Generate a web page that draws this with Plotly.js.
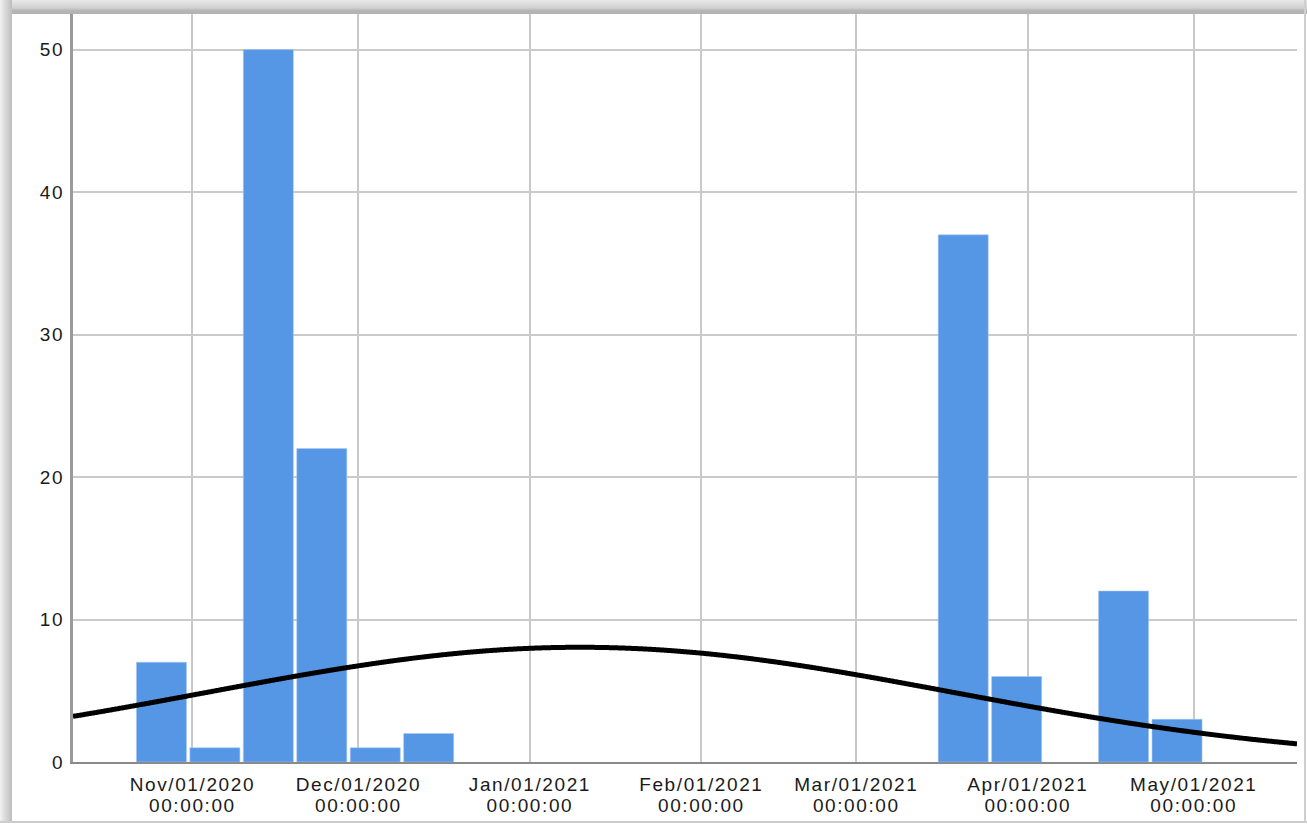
<!DOCTYPE html>
<html>
<head>
<meta charset="utf-8">
<script src="https://cdn.plot.ly/plotly-3.0.1.min.js"></script>
<style>
  html, body { margin: 0; padding: 0; background: #ffffff; }
  #wrap { position: relative; width: 1307px; height: 825px; overflow: hidden; }
  #chart { position: absolute; left: 0; top: 0; width: 1307px; height: 825px; }
  .frame { position: absolute; pointer-events: none; }
  #frameTop { left: 0; top: 0; width: 1307px; height: 14px;
    background: linear-gradient(to bottom, #e9e9e9 0%, #dedede 25%, #d2d2d2 55%, #b6b6b6 75%, #b2b2b2 100%); }
  #frameLeft { left: 0; top: 0; width: 12px; height: 822px;
    background: linear-gradient(to right, #f2f2f2 0%, #dedede 35%, #cfcfcf 65%, #bdbdbd 100%); }
  #frameBottom { left: 0; top: 821px; width: 1307px; height: 2px; background: #cdcdcd; }
  #frameRight { left: 1304px; top: 0; width: 2px; height: 823px; background: #cfcfcf; }
  .xtick text { letter-spacing: 1.6px; }
  .ytick text { letter-spacing: 1.6px; }
</style>
</head>
<body>
<div id="wrap">
  <div id="chart"></div>
  <div class="frame" id="frameTop"></div>
  <div class="frame" id="frameLeft"></div>
  <div class="frame" id="frameBottom"></div>
  <div class="frame" id="frameRight"></div>
</div>
<script>
// Histogram bins (centre date of each non-empty bin) and their frequencies
const binCenters = [
  '2020-10-26 09:38', '2020-11-05 01:31', '2020-11-14 17:24', '2020-11-24 09:17',
  '2020-12-04 01:11', '2020-12-13 17:04', '2021-03-20 07:57', '2021-03-29 23:50',
  '2021-04-18 07:36', '2021-04-27 23:30'
];
const counts = [7, 1, 50, 22, 1, 2, 37, 6, 12, 3];
const binWidthDays = 9.662;

// Fitted normal distribution
const normalMean = '2021-01-10 02:00';
const normalSdDays = 67.5;

// Axis ticks
const tickDates = ['2020-11-01', '2020-12-01', '2021-01-01', '2021-02-01', '2021-03-01', '2021-04-01', '2021-05-01'];
const tickLabels = [
  'Nov/01/2020<br>00:00:00', 'Dec/01/2020<br>00:00:00', 'Jan/01/2021<br>00:00:00',
  'Feb/01/2021<br>00:00:00', 'Mar/01/2021<br>00:00:00', 'Apr/01/2021<br>00:00:00',
  'May/01/2021<br>00:00:00'
];
const xRange = ['2020-10-10 10:00', '2021-05-19 16:00'];

const DAY = 86400000;
const toMs = s => new Date(s.replace(' ', 'T') + (s.length <= 10 ? 'T00:00:00Z' : ':00Z')).getTime();
const fmt = ms => new Date(ms).toISOString().slice(0, 19).replace('T', ' ');

// Normal curve scaled to the histogram: N * binWidth * pdf
const total = counts.reduce((a, b) => a + b, 0);
const mu = toMs(normalMean);
const sd = normalSdDays;
const scale = total * binWidthDays / (sd * Math.sqrt(2 * Math.PI));
const x0 = toMs(xRange[0]), x1 = toMs(xRange[1]);
const curveX = [], curveY = [];
const steps = 600;
for (let i = 0; i <= steps; i++) {
  const t = x0 + (x1 - x0) * i / steps;
  const z = (t - mu) / DAY / sd;
  curveX.push(fmt(t));
  curveY.push(scale * Math.exp(-0.5 * z * z));
}

const bars = {
  type: 'bar',
  x: binCenters,
  y: counts,
  width: binCenters.map(() => (binWidthDays - 0.62) * DAY),
  marker: { color: '#5596e5', line: { color: '#a8c7f1', width: 0.6 } },
  hoverinfo: 'x+y'
};

const curve = {
  type: 'scatter',
  mode: 'lines',
  x: curveX,
  y: curveY,
  line: { color: '#000000', width: 5, shape: 'spline', smoothing: 0.6 },
  hoverinfo: 'skip'
};

const tickFont = { family: 'Liberation Sans, Arial, sans-serif', size: 19, color: '#1a1a1a' };

const layout = {
  width: 1307,
  height: 825,
  margin: { l: 73, r: 10, t: 14, b: 63 },
  paper_bgcolor: '#ffffff',
  plot_bgcolor: '#ffffff',
  showlegend: false,
  bargap: 0,
  xaxis: {
    type: 'date',
    range: xRange,
    tickmode: 'array',
    tickvals: tickDates,
    ticktext: tickLabels,
    tickfont: tickFont,
    ticks: '',
    ticklabelstandoff: 4,
    showgrid: true,
    gridcolor: '#c9c9c9',
    gridwidth: 2,
    showline: true,
    linecolor: '#8a8a8a',
    linewidth: 2,
    zeroline: false,
    fixedrange: true
  },
  yaxis: {
    range: [0, 52.5],
    tickmode: 'linear',
    tick0: 0,
    dtick: 10,
    tickfont: tickFont,
    ticks: '',
    ticklabelstandoff: 2,
    showgrid: true,
    gridcolor: '#cacaca',
    gridwidth: 2,
    showline: true,
    linecolor: '#9a9a9a',
    linewidth: 3,
    zeroline: false,
    fixedrange: true
  }
};

Plotly.newPlot('chart', [bars, curve], layout, { displayModeBar: false, staticPlot: true }).then(() => {
  // Tighter spacing between the date line and the time line of each x tick label
  document.querySelectorAll('.xtick text tspan.line').forEach(ts => {
    if (ts.getAttribute('dy') && parseFloat(ts.getAttribute('dy')) > 0) ts.setAttribute('dy', '1.12em');
  });
});
</script>
</body>
</html>
